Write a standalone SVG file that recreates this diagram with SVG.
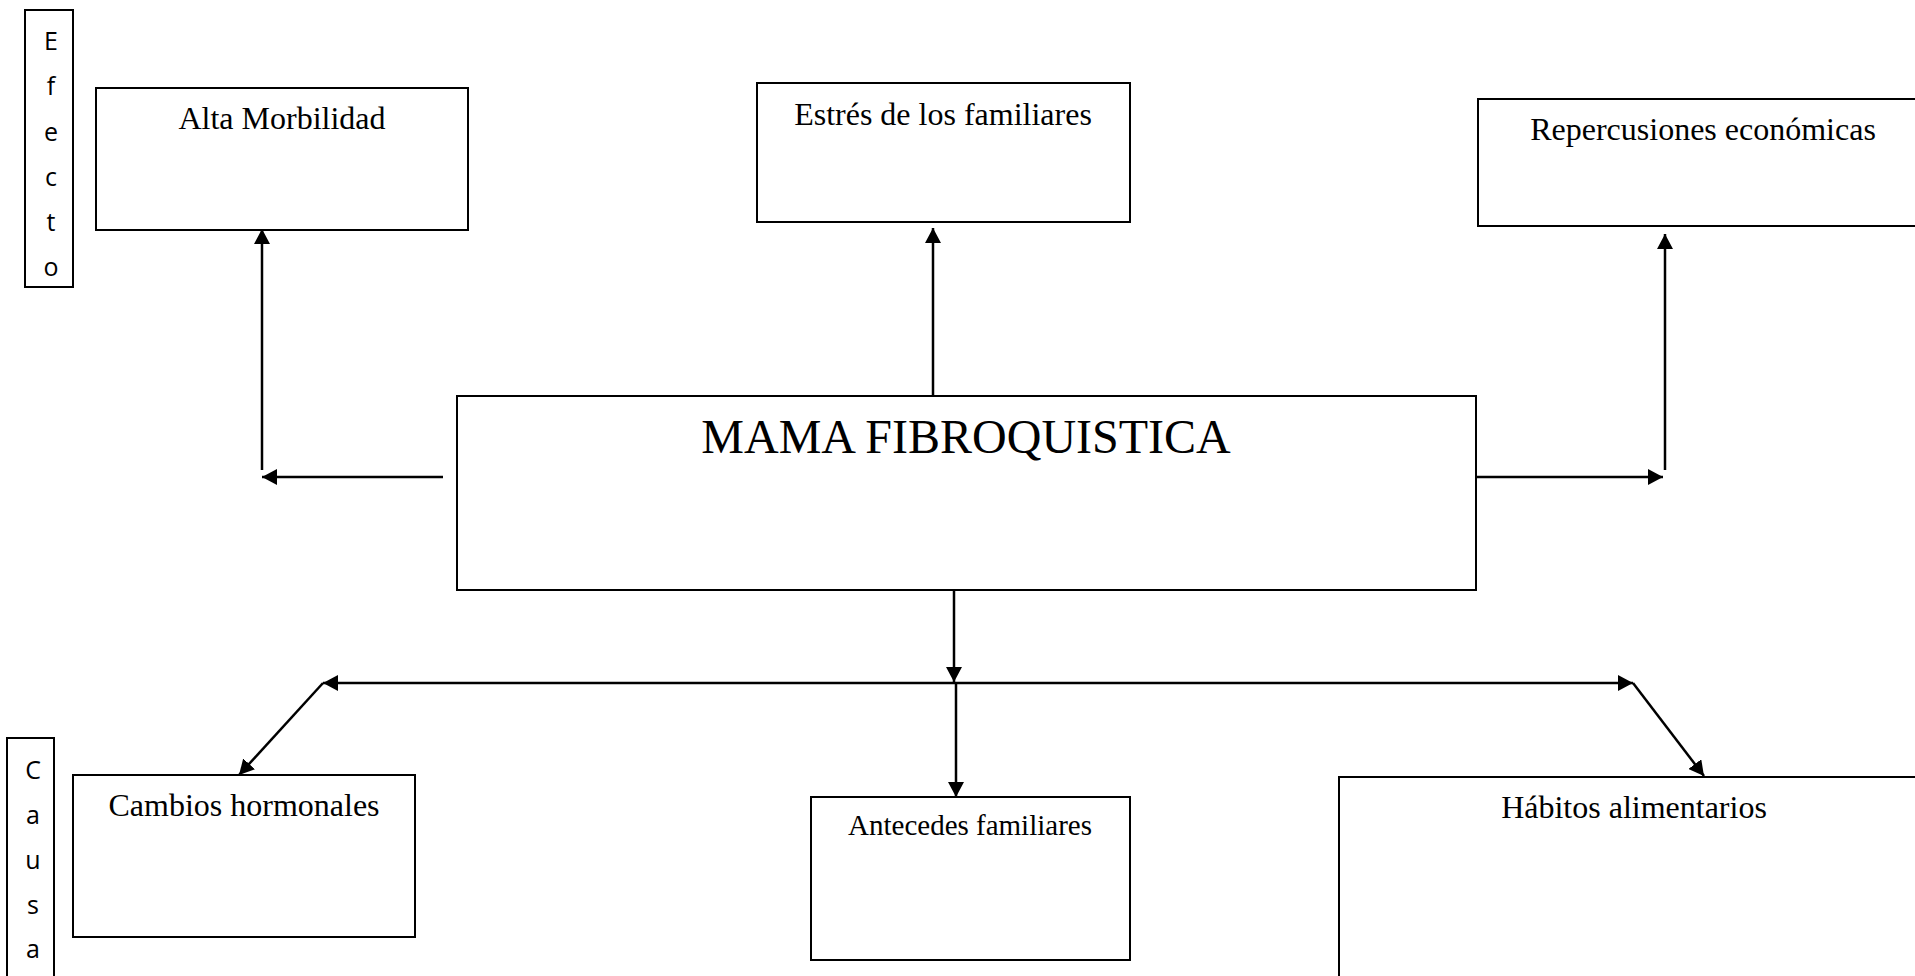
<svg xmlns="http://www.w3.org/2000/svg" width="1915" height="976" viewBox="0 0 1915 976">
<style>
.box{fill:#fff;stroke:#000;stroke-width:2}
.lbl{font-family:"Liberation Serif","Times New Roman",serif;font-size:32px;fill:#000;text-anchor:middle}
.side{font-family:"Open Sans","Liberation Sans",sans-serif;font-size:25px;fill:#000;text-anchor:middle}
.con{fill:none;stroke:#000;stroke-width:2.5}
</style>
<defs>
<marker id="arr" markerUnits="userSpaceOnUse" markerWidth="16" markerHeight="16" refX="15" refY="8" orient="auto" viewBox="0 0 16 16">
<path d="M0,0 L15,8 L0,16 z" fill="#000"/>
</marker>
</defs>
<rect width="1915" height="976" fill="#fff"/>
<g id="efecto">
<rect class="box" x="25" y="10" width="48" height="277"/>
<text class="side" x="51" y="50">E</text>
<text class="side" x="51" y="95">f</text>
<text class="side" x="51" y="141">e</text>
<text class="side" x="51" y="186">c</text>
<text class="side" x="51" y="231">t</text>
<text class="side" x="51" y="276">o</text>
</g>
<g id="causa">
<rect class="box" x="7" y="738" width="47" height="260"/>
<text class="side" x="33" y="779">C</text>
<text class="side" x="33" y="824">a</text>
<text class="side" x="33" y="869">u</text>
<text class="side" x="33" y="914">s</text>
<text class="side" x="33" y="958">a</text>
</g>
<g id="alta">
<rect class="box" x="96" y="88" width="372" height="142"/>
<text class="lbl" x="282" y="129">Alta Morbilidad</text>
</g>
<g id="estres">
<rect class="box" x="757" y="83" width="373" height="139"/>
<text class="lbl" x="943" y="125">Estrés de los familiares</text>
</g>
<g id="repercusiones">
<rect class="box" x="1478" y="99" width="452" height="127"/>
<text class="lbl" x="1703" y="140">Repercusiones económicas</text>
</g>
<g id="main">
<rect class="box" x="457" y="396" width="1019" height="194"/>
<text class="lbl" x="966" y="453" style="font-size:48px">MAMA FIBROQUISTICA</text>
</g>
<g id="cambios">
<rect class="box" x="73" y="775" width="342" height="162"/>
<text class="lbl" x="244" y="816">Cambios hormonales</text>
</g>
<g id="antecedes">
<rect class="box" x="811" y="797" width="319" height="163"/>
<text class="lbl" x="970" y="835" style="font-size:29px">Antecedes familiares</text>
</g>
<g id="habitos">
<rect class="box" x="1339" y="777" width="591" height="230"/>
<text class="lbl" x="1634" y="818">Hábitos alimentarios</text>
</g>
<g id="connectors">
<line class="con" x1="443" y1="477" x2="262" y2="477" marker-end="url(#arr)"/>
<line class="con" x1="262" y1="470" x2="262" y2="229" marker-end="url(#arr)"/>
<line class="con" x1="933" y1="396" x2="933" y2="228" marker-end="url(#arr)"/>
<line class="con" x1="1476" y1="477" x2="1663" y2="477" marker-end="url(#arr)"/>
<line class="con" x1="1665" y1="470" x2="1665" y2="234" marker-end="url(#arr)"/>
<line class="con" x1="954" y1="591" x2="954" y2="682" marker-end="url(#arr)"/>
<line class="con" x1="954" y1="683" x2="323" y2="683" marker-end="url(#arr)"/>
<line class="con" x1="954" y1="683" x2="1633" y2="683" marker-end="url(#arr)"/>
<line class="con" x1="956" y1="683" x2="956" y2="797" marker-end="url(#arr)"/>
<line class="con" x1="323" y1="683" x2="239" y2="775" marker-end="url(#arr)"/>
<line class="con" x1="1633" y1="683" x2="1704" y2="776" marker-end="url(#arr)"/>
</g>
</svg>
